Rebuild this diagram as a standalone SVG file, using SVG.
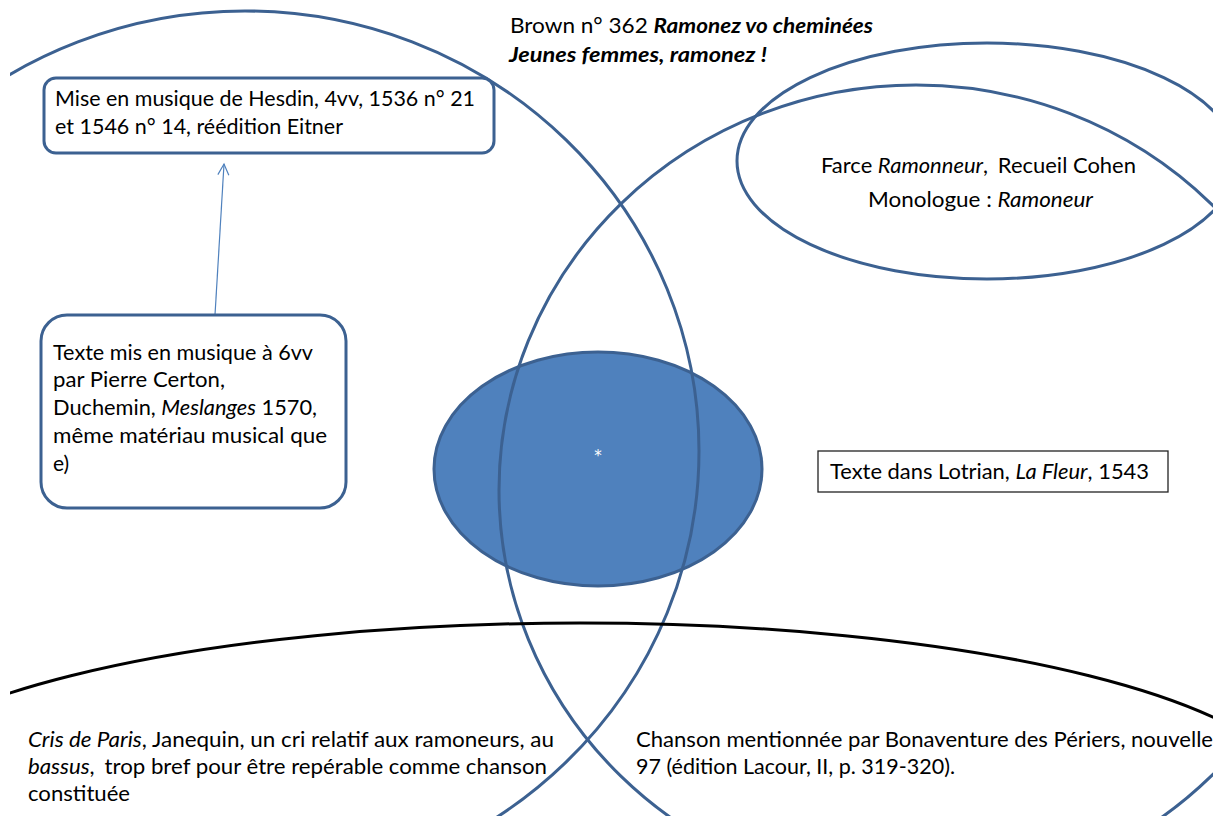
<svg xmlns="http://www.w3.org/2000/svg" width="1213" height="816" viewBox="0 0 1213 816">
<style>
.venn{fill:none;stroke:#3C6191;stroke-width:3}
.dark{fill:none;stroke:#000;stroke-width:3}
.box{fill:#fff;stroke:#3C6191;stroke-width:3}
.plain{fill:#fff;stroke:#222;stroke-width:1.3}
.t{font-family:Lato,"Liberation Sans",sans-serif;font-size:21px;fill:#000}
.i{font-style:italic}
.bi{font-style:italic;font-weight:bold}
.conn{fill:none;stroke:#4F81BD;stroke-width:1.2}
</style>
<defs>
<clipPath id="clipView"><rect x="10" y="0" width="1203" height="816"/></clipPath>
<marker id="openArrow" markerWidth="14" markerHeight="14" refX="12" refY="6" orient="auto" markerUnits="userSpaceOnUse">
<path d="M1,0.5 L12,6 L1,11.5" fill="none" stroke="#4F81BD" stroke-width="1.2"/>
</marker>
</defs>
<rect width="1213" height="816" fill="#fff"/>

<g id="centre">
<ellipse cx="598" cy="469" rx="164" ry="117" fill="#4F81BD" stroke="#3C6191" stroke-width="3"/>
<text x="598" y="461" text-anchor="middle" font-family="'DejaVu Sans',sans-serif" font-size="15" fill="#fff">*</text>
</g>

<g id="set-left" clip-path="url(#clipView)">
<ellipse class="venn" cx="245" cy="451" rx="454" ry="440"/>
</g>

<g id="set-right" clip-path="url(#clipView)">
<ellipse class="venn" cx="916" cy="490" rx="417" ry="405"/>
</g>

<g id="set-farce">
<ellipse class="venn" cx="987" cy="161" rx="250" ry="118"/>
<text class="t" x="978.5" y="173" text-anchor="middle" textLength="315" lengthAdjust="spacingAndGlyphs">Farce <tspan class="i">Ramonneur</tspan>, <tspan dx="4">Recueil Cohen</tspan></text>
<text class="t" x="980.5" y="207" text-anchor="middle" textLength="225" lengthAdjust="spacingAndGlyphs">Monologue : <tspan class="i">Ramoneur</tspan></text>
</g>

<g id="set-bottom" clip-path="url(#clipView)">
<ellipse class="dark" cx="580" cy="803" rx="720" ry="180"/>
</g>

<g id="title">
<text class="t" x="510" y="33" textLength="363" lengthAdjust="spacingAndGlyphs">Brown n° 362 <tspan class="bi">Ramonez vo cheminées</tspan></text>
<text class="t bi" x="509" y="62" textLength="258" lengthAdjust="spacingAndGlyphs">Jeunes femmes, ramonez !</text>
</g>

<g id="connectors">
<line class="conn" x1="215" y1="315" x2="224" y2="164" marker-end="url(#openArrow)"/>
</g>

<g id="hesdin">
<rect class="box" x="44" y="78" width="450" height="75" rx="12"/>
<text class="t" x="55" y="106" textLength="420" lengthAdjust="spacingAndGlyphs">Mise en musique de Hesdin, 4vv, 1536 n° 21</text>
<text class="t" x="55" y="134" textLength="288" lengthAdjust="spacingAndGlyphs">et 1546 n° 14, réédition Eitner</text>
</g>

<g id="certon">
<rect class="box" x="41" y="315" width="305" height="193" rx="26"/>
<text class="t" x="53" y="360" textLength="260" lengthAdjust="spacingAndGlyphs">Texte mis en musique à 6vv</text>
<text class="t" x="53" y="387" textLength="172" lengthAdjust="spacingAndGlyphs">par Pierre Certon,</text>
<text class="t" x="53" y="415" textLength="264" lengthAdjust="spacingAndGlyphs">Duchemin, <tspan class="i">Meslanges</tspan> 1570,</text>
<text class="t" x="53" y="443" textLength="274" lengthAdjust="spacingAndGlyphs">même matériau musical que</text>
<text class="t" x="53" y="471">e)</text>
</g>

<g id="lotrian">
<rect class="plain" x="818" y="451" width="350" height="41"/>
<text class="t" x="830" y="479" textLength="319" lengthAdjust="spacingAndGlyphs">Texte dans Lotrian, <tspan class="i">La Fleur</tspan>, 1543</text>
</g>

<g id="janequin">
<text class="t" x="28" y="747" textLength="526" lengthAdjust="spacingAndGlyphs"><tspan class="i">Cris de Paris</tspan>, Janequin, un cri relatif aux ramoneurs, au</text>
<text class="t" x="28" y="774" textLength="519" lengthAdjust="spacingAndGlyphs"><tspan class="i">bassus</tspan>, <tspan dx="4">trop bref pour être repérable comme chanson</tspan></text>
<text class="t" x="28" y="801" textLength="102" lengthAdjust="spacingAndGlyphs">constituée</text>
</g>

<g id="periers">
<text class="t" x="636" y="747" textLength="577" lengthAdjust="spacingAndGlyphs">Chanson mentionnée par Bonaventure des Périers, nouvelle</text>
<text class="t" x="636" y="774" textLength="319" lengthAdjust="spacingAndGlyphs">97 (édition Lacour, II, p. 319-320).</text>
</g>
</svg>
